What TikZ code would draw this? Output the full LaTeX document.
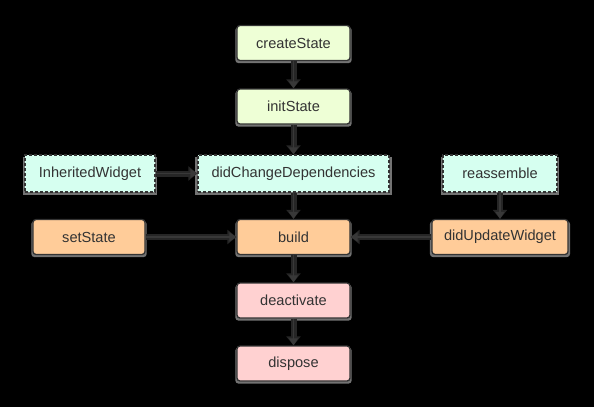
\documentclass[tikz,border=0pt]{standalone}
\usepackage{fontspec}
\setmainfont{Liberation Sans}
\usetikzlibrary{positioning}
\usetikzlibrary{arrows.meta}
\usetikzlibrary{shadows}
\definecolor{stategreen}{HTML}{EEFFD6}
\definecolor{depcyan}{HTML}{D6FFF0}
\definecolor{buildorange}{HTML}{FFCC99}
\definecolor{endpink}{HTML}{FFD1D1}
\definecolor{inkgray}{HTML}{333333}
\definecolor{linkgray}{HTML}{383838}
\tikzset{
	box/.style={draw=inkgray,line width=1.3pt,text=inkgray,font=\fontsize{14.6}{16}\selectfont,
		minimum width=113pt,minimum height=35pt,inner sep=0pt,
		general shadow={fill=black!55,shadow scale=1.03,shadow yshift=-2pt}},
	solidbox/.style={box,rounded corners=3pt},
	dashbox/.style={box,dashed,dash pattern=on 3pt off 2pt,minimum height=37pt},
	link/.style={draw=linkgray,line width=1.2pt,-{Triangle[length=7pt,width=9pt]},
		preaction={draw=black!85,line width=6pt,-{Triangle[length=9pt,width=14pt]}}},
}

\begin{document}
\begin{tikzpicture}[x=1pt,y=-1pt]
	\fill [black] (0,0) rectangle (594,407);
	\useasboundingbox (0,0) rectangle (594,407);

	% main column..........................
	\node [solidbox,fill=stategreen] (create) at (293.5,43) {createState};
	\node [solidbox,fill=stategreen] (init) at (293.5,106.5) {initState};
	\node [dashbox,fill=depcyan,minimum width=191pt] (dep) at (293.5,173.5) {didChangeDependencies};
	\node [solidbox,fill=buildorange] (build) at (293.5,237) {build};
	\node [solidbox,fill=endpink] (deact) at (293.5,300.5) {deactivate};
	\node [solidbox,fill=endpink] (dispose) at (293.5,363.5) {dispose};

	% side boxes...........................
	\node [dashbox,fill=depcyan,minimum width=130pt] (inherited) at (90,173.5) {InheritedWidget};
	\node [solidbox,fill=buildorange,minimum width=112pt] (setstate) at (89,237) {setState};
	\node [dashbox,fill=depcyan,minimum width=114pt] (reassemble) at (500,173.5) {reassemble};
	\node [solidbox,fill=buildorange,minimum width=136pt] (update) at (500,237) {didUpdateWidget};

	% connectors...........................
	\draw [link] (create) -- (init);
	\draw [link] (init) -- (dep);
	\draw [link] (dep) -- (build);
	\draw [link] (build) -- (deact);
	\draw [link] (deact) -- (dispose);
	\draw [link] (inherited) -- (dep);
	\draw [link] (setstate) -- (build);
	\draw [link] (update) -- (build);
	\draw [link] (reassemble) -- (update);
\end{tikzpicture}
\end{document}
